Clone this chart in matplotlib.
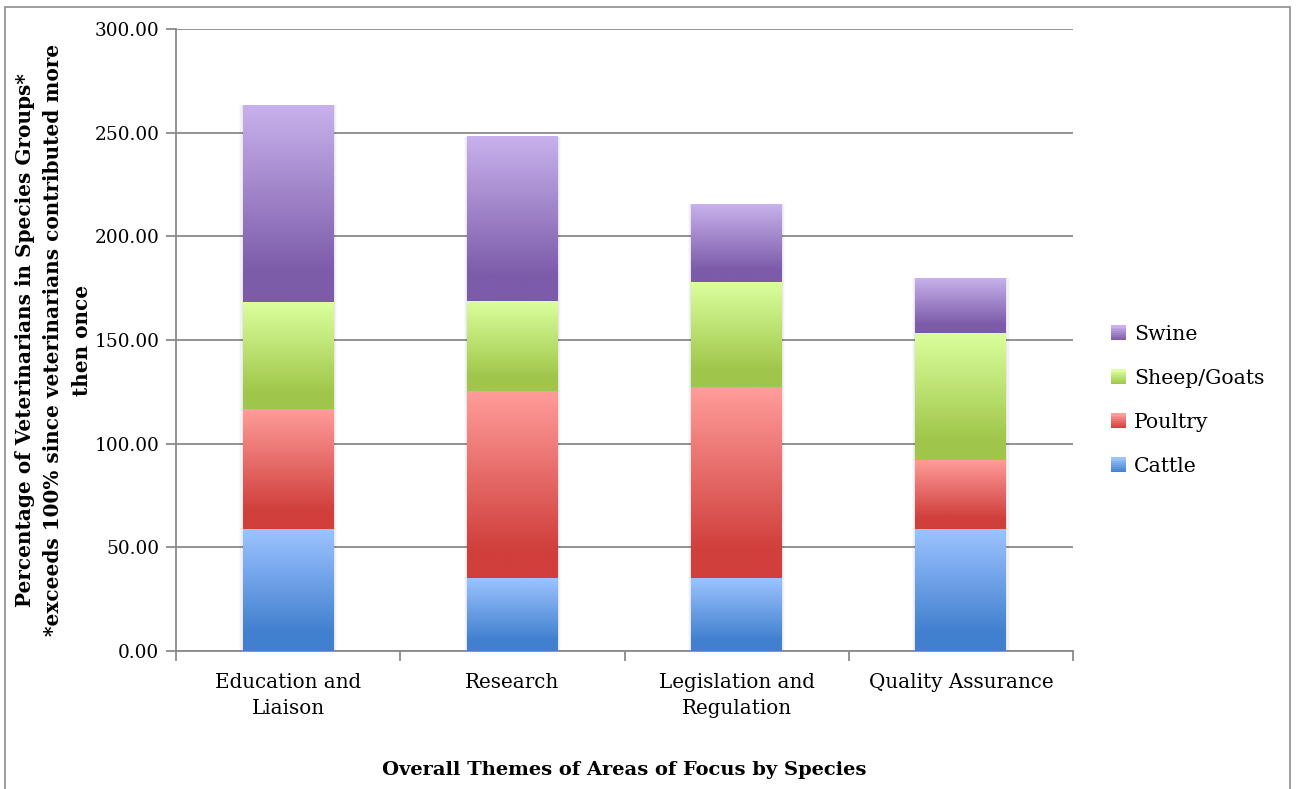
import numpy as np
import matplotlib.pyplot as plt
from matplotlib.colors import LinearSegmentedColormap
from matplotlib.patches import Rectangle
from matplotlib.legend_handler import HandlerBase

plt.rcParams['font.family'] = ['DejaVu Serif']

themes = ['Education and\nLiaison', 'Research', 'Legislation and\nRegulation', 'Quality Assurance']
species = ['Cattle', 'Poultry', 'Sheep/Goats', 'Swine']
cattle = [58.8, 35.2, 35.2, 58.8]
poultry = [57.9, 90.2, 92.1, 33.3]
sheep_goats = [51.6, 43.4, 50.6, 61.3]
swine = [95.0, 79.1, 37.6, 26.5]

# light (top) and dark (bottom) shade for each species
shades = {
    'Cattle': ('#9cc3ff', '#4180cf'),
    'Poultry': ('#ff9d9a', '#d03f3c'),
    'Sheep/Goats': ('#dbff9d', '#9fc64a'),
    'Swine': ('#c8b1ec', '#7c5ba9'),
}

grid_col = '#8a8a8a'

fig = plt.figure(figsize=(12.97, 7.89), dpi=100)
ax = fig.add_axes([176 / 1297, 138 / 789, 897 / 1297, 622 / 789])

x = np.arange(len(themes))
width = 0.405
series = [cattle, poultry, sheep_goats, swine]
totals = np.sum(series, axis=0)

# soft shadow behind each full stack
for xi, tot in zip(x, totals):
    for k, a in enumerate([0.045, 0.03, 0.018]):
        off = 0.005 * (k + 1)
        ax.add_patch(Rectangle((xi - width / 2 - off, -0.5 * (k + 1)), width + 2 * off,
                               tot + 0.5 * (k + 1), facecolor='black', alpha=a,
                               edgecolor='none', zorder=2))

bottom = np.zeros(len(themes))
# vertical ramp: light at top, reaching the dark shade near the bottom
ramp = np.clip(np.linspace(0, 1, 200) / 0.85, 0, 1).reshape(-1, 1)

for name, vals in zip(species, series):
    light, dark = shades[name]
    cmap = LinearSegmentedColormap.from_list(name, [light, dark])
    bars = ax.bar(x, vals, width, bottom=bottom, color='none', edgecolor='none', zorder=3)
    for b in bars:
        x0, y0 = b.get_x(), b.get_y()
        w, h = b.get_width(), b.get_height()
        ax.imshow(ramp, cmap=cmap, vmin=0, vmax=1, aspect='auto',
                  extent=(x0, x0 + w, y0, y0 + h), origin='upper',
                  interpolation='bilinear', zorder=3)
    bottom += np.array(vals)

ax.set_xlim(-0.5, len(themes) - 0.5)
ax.set_ylim(0, 300)
ax.set_yticks(np.arange(0, 301, 50))
ax.set_yticklabels([f'{v:.2f}' for v in np.arange(0, 301, 50)])
ax.yaxis.grid(True, color=grid_col, linewidth=1.3, zorder=0)
ax.set_axisbelow(True)

ax.set_xticks(x)
ax.set_xticklabels(themes, linespacing=1.45)
ax.set_xticks(np.arange(-0.5, len(themes), 1), minor=True)
ax.tick_params(axis='x', which='major', length=0, pad=16, labelsize=14.3)
ax.tick_params(axis='x', which='minor', length=7, width=1.3, color=grid_col, direction='out')
ax.tick_params(axis='y', length=7, width=1.3, color=grid_col, labelsize=13.3, pad=5)

for s in ['top', 'right']:
    ax.spines[s].set_visible(False)
for s in ['left', 'bottom']:
    ax.spines[s].set_color(grid_col)
    ax.spines[s].set_linewidth(1.3)

ax.set_ylabel('Percentage of Veterinarians in Species Groups*\n'
              '*exceeds 100% since veterinarians contributed more\nthen once',
              fontsize=14.4, fontweight='bold', linespacing=1.52, labelpad=2)
ax.set_xlabel('Overall Themes of Areas of Focus by Species', fontsize=14,
              fontweight='bold', labelpad=31)


class GradientSquare(HandlerBase):
    def __init__(self, light, dark):
        super().__init__()
        self.cmap = LinearSegmentedColormap.from_list('h', [light, dark])

    def create_artists(self, legend, orig_handle, xdescent, ydescent,
                       width, height, fontsize, trans):
        n = 8
        side = min(width, height) * 0.8
        x0 = -xdescent + width - side
        y0 = -ydescent + (height - side) / 2
        arts = []
        for i in range(n):
            t = (n - 1 - i) / (n - 1)
            arts.append(Rectangle((x0, y0 + side * i / n), side, side / n + 0.3,
                                  facecolor=self.cmap(t), edgecolor='none', transform=trans))
        return arts


handles = [Rectangle((0, 0), 1, 1) for _ in species][::-1]
handler_map = {h: GradientSquare(*shades[n]) for h, n in zip(handles, species[::-1])}
fig.legend(handles, species[::-1], handler_map=handler_map, loc='center left',
           bbox_to_anchor=(1087 / 1297, 1 - 400 / 789), frameon=False, fontsize=14.7,
           handlelength=1.0, handleheight=1.0, handletextpad=0.4, labelspacing=1.17)

# outer frame of the chart area
fig.patches.append(Rectangle((5 / 1297, -0.05), 1285 / 1297, 1.05 - 7 / 789,
                             transform=fig.transFigure, fill=False,
                             edgecolor='#8c8c8c', linewidth=1.2))

fig.savefig('out.png', dpi=100)
